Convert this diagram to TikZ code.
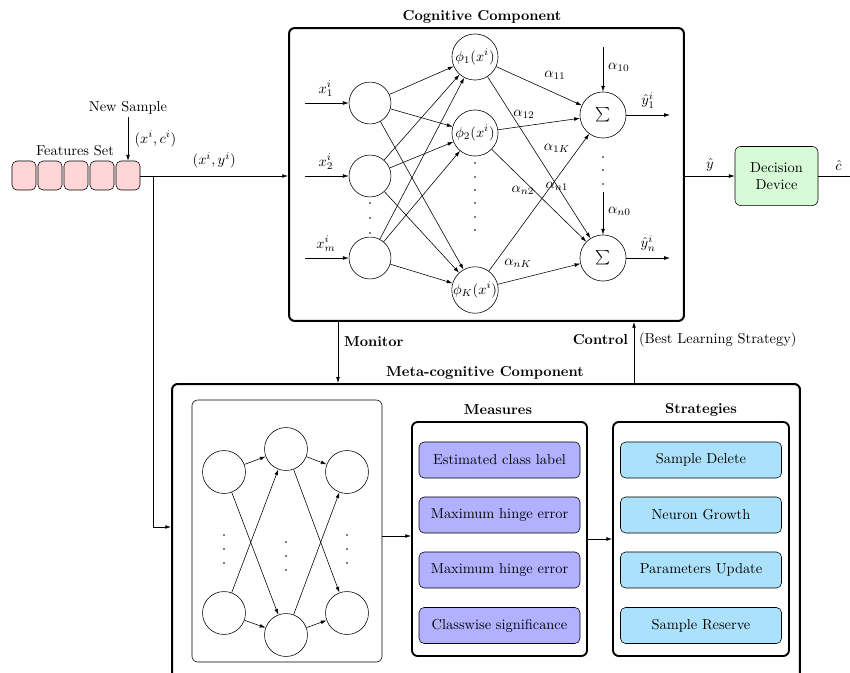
\documentclass[tikz,border=0pt]{standalone}
\usetikzlibrary{arrows.meta}
\definecolor{featfill}{HTML}{FFD6D8}
\definecolor{decfill}{HTML}{D7FBD7}
\definecolor{measfill}{HTML}{B1B1FF}
\definecolor{stratfill}{HTML}{ABE1FA}
\tikzset{
  bigbox/.style={draw, line width=1.4pt, rounded corners=4pt, inner sep=0pt},
  subbox/.style={draw, line width=1.3pt, rounded corners=4pt, inner sep=0pt},
  thinbox/.style={draw, rounded corners=4pt, inner sep=0pt},
  feat/.style={draw, fill=featfill, rounded corners=3.5pt, minimum width=16.7pt, minimum height=20.1pt, inner sep=0pt},
  item/.style={draw, rounded corners=3.5pt, minimum width=111.7pt, minimum height=25pt, inner sep=0pt},
  inneur/.style={draw, circle, minimum size=29.1pt, inner sep=0pt},
  hidneur/.style={draw, circle, minimum size=32pt, inner sep=0pt},
  metaneur/.style={draw, circle, minimum size=29.8pt, inner sep=0pt},
  ttl/.style={font=\bfseries},
  conn/.style={->},
}
\begin{document}
\begin{tikzpicture}[x=0.694pt, y=-0.694pt, >={Latex[length=4pt,width=2.6pt]}]
\clip (0,0) rectangle (850,672);

% ---- feature set ----
\foreach \i/\x in {1/24,2/50,3/76,4/102,5/128}
  \node[feat] (f\i) at (\x,175.5) {};
\node (fslabel) at (75,151) {Features Set};
\node (nslabel) at (128,108) {New Sample};
\coordinate (nstop) at (128,117);
\draw[conn] (nstop) -- node[right, xshift=1pt] {$(x^i,c^i)$} (f5.north);

% ---- cognitive component ----
\node[bigbox, minimum width=274.1pt, minimum height=203.3pt] (cog) at (486.5,174.5) {};
\node[ttl] (cogtitle) at (482,17) {Cognitive Component};

\coordinate (split) at (153,176);
\draw[conn] (f5.east |- split) -- node[above, yshift=2pt] {$(x^i,y^i)$} (cog.west |- split);

% input layer
\node[inneur] (x1) at (370,103) {};
\node[inneur] (x2) at (370,176) {};
\node[inneur] (xm) at (370,258) {};
\coordinate (in1) at (305,103);
\coordinate (in2) at (305,176);
\coordinate (inm) at (305,258);
\draw[conn] (in1) -- (x1.west);
\draw[conn] (in2) -- (x2.west);
\draw[conn] (inm) -- (xm.west);
\node (lx1) at (326,89) {$x_1^i$};
\node (lx2) at (326,162) {$x_2^i$};
\node (lxm) at (326,244) {$x_m^i$};
\foreach \y in {203,218,233} \fill (370,\y) circle (0.55pt);

% hidden layer
\node[hidneur] (h1) at (475,57) {$\phi_1(x^i)$};
\node[hidneur] (h2) at (475,133) {$\phi_2(x^i)$};
\node[hidneur] (hK) at (475,290) {$\phi_K(x^i)$};
\foreach \y in {163,177,190,203,217,230} \fill (475,\y) circle (0.55pt);

\foreach \a in {x1,x2,xm}
  \foreach \b in {h1,h2,hK}
    \draw[conn] (\a) -- (\b);

% output layer
\node[hidneur] (s1) at (603,115) {$\sum$};
\node[hidneur] (sn) at (603,258) {$\sum$};
\coordinate (b1) at (603,47);
\coordinate (bn) at (603,192);
\draw[conn] (b1) -- node[right, pos=0.45] {$\alpha_{10}$} (s1.north);
\draw[conn] (bn) -- node[right, pos=0.45] {$\alpha_{n0}$} (sn.north);
\foreach \y in {157,170,184} \fill (603,\y) circle (0.55pt);

\draw[conn] (h1) -- (s1);
\draw[conn] (h1) -- (sn);
\draw[conn] (h2) -- (s1);
\draw[conn] (h2) -- (sn);
\draw[conn] (hK) -- (s1);
\draw[conn] (hK) -- (sn);
\node (a11) at (555,75) {$\alpha_{11}$};
\node (a12) at (524,114) {$\alpha_{12}$};
\node (a1K) at (557,148) {$\alpha_{1K}$};
\node (an2) at (523,190) {$\alpha_{n2}$};
\node (an1) at (557,186) {$\alpha_{n1}$};
\node (anK) at (518,263) {$\alpha_{nK}$};

\coordinate (o1) at (670,115);
\coordinate (on) at (670,258);
\draw[conn] (s1.east) -- node[above, yshift=1pt] {$\hat{y}_1^i$} (o1);
\draw[conn] (sn.east) -- node[above, yshift=1pt] {$\hat{y}_n^i$} (on);

% ---- decision device ----
\node[draw, fill=decfill, rounded corners=4pt, minimum width=57.6pt, minimum height=41pt, inner sep=0pt, align=center] (dd) at (776.5,176) {Decision\\Device};
\draw[conn] (cog.east |- dd.west) -- node[above] {$\hat{y}$} (dd.west);
\coordinate (cout) at (850,176);
\draw (dd.east) -- node[above, xshift=3pt] {$\hat{c}$} (cout);

% ---- meta-cognitive component ----
\node[bigbox, minimum width=435.8pt, minimum height=219.3pt] (meta) at (486,542) {};
\node[ttl] (metatitle) at (485,373) {Meta-cognitive Component};

\coordinate (monx) at (338,0);
\coordinate (ctlx) at (634,0);
\draw[conn] (cog.south -| monx) -- (meta.north -| monx);
\node[ttl, anchor=west] (monlabel) at (339,342) {Monitor};
\draw[conn] (meta.north -| ctlx) -- (cog.south -| ctlx);
\node[ttl, anchor=east] (ctllabel) at (633,340) {Control};
\node[anchor=west] (ctlnote) at (634,340) {(Best Learning Strategy)};

\coordinate (branch) at (153,527);
\draw[conn] (split) -- (branch) -- (meta.west |- branch);

% small network
\node[thinbox, minimum width=131.9pt, minimum height=181.8pt] (net) at (287,531) {};
\node[metaneur] (m1) at (224,472) {};
\node[metaneur] (m2) at (286,449) {};
\node[metaneur] (m3) at (347,472) {};
\node[metaneur] (m4) at (224,613) {};
\node[metaneur] (m5) at (286,635) {};
\node[metaneur] (m6) at (347,613) {};
\draw[conn] (m1) -- (m2);
\draw[conn] (m2) -- (m3);
\draw[conn] (m4) -- (m5);
\draw[conn] (m5) -- (m6);
\draw[conn] (m1) -- (m5);
\draw[conn] (m4) -- (m2);
\draw[conn] (m2) -- (m6);
\draw[conn] (m5) -- (m3);
\foreach \y in {535,549,563} {\fill (224,\y) circle (0.55pt); \fill (347,\y) circle (0.55pt);}
\foreach \y in {542,556,570} \fill (286,\y) circle (0.55pt);

% measures
\node[subbox, minimum width=121.5pt, minimum height=162.4pt] (meas) at (499.5,539) {};
\node[ttl] (meastitle) at (498,410) {Measures};
\node[item, fill=measfill] (e1) at (499.5,460) {Estimated class label};
\node[item, fill=measfill] (e2) at (499.5,515) {Maximum hinge error};
\node[item, fill=measfill] (e3) at (499.5,570) {Maximum hinge error};
\node[item, fill=measfill] (e4) at (499.5,625.5) {Classwise significance};

% strategies
\node[subbox, minimum width=122.1pt, minimum height=162.4pt] (strat) at (701,539) {};
\node[ttl] (strattitle) at (701,410) {Strategies};
\node[item, fill=stratfill] (t1) at (701,460) {Sample Delete};
\node[item, fill=stratfill] (t2) at (701,515) {Neuron Growth};
\node[item, fill=stratfill] (t3) at (701,570) {Parameters Update};
\node[item, fill=stratfill] (t4) at (701,625.5) {Sample Reserve};

\coordinate (flowy) at (0,536);
\draw[conn] (net.east |- flowy) -- (meas.west |- flowy);
\coordinate (flowy2) at (0,539);
\draw[conn] (meas.east |- flowy2) -- (strat.west |- flowy2);
\end{tikzpicture}
\end{document}
